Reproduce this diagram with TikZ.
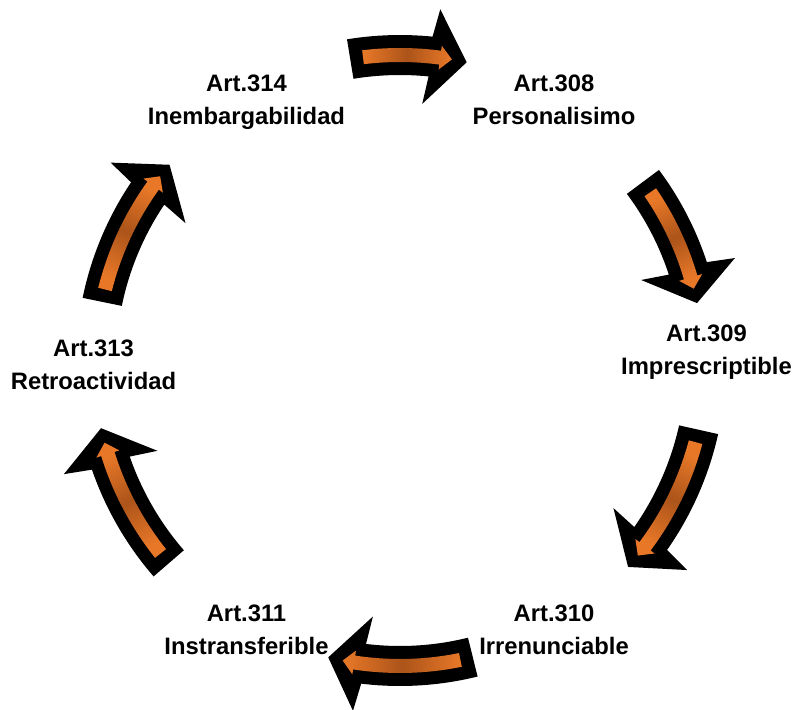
\documentclass[tikz,border=0pt]{standalone}
\usepackage{fontspec}
\setmainfont{Liberation Sans}
\definecolor{orEnd}{RGB}{232,120,40}
\definecolor{orMid}{RGB}{172,84,26}
\tikzset{
  lbl/.style={font=\bfseries\fontsize{23.8}{33}\selectfont, align=center, inner sep=0pt, anchor=north, text=black},
}
\newcommand{\cycarrow}[3]{%
  \pgfmathsetmacro{\aT}{#1}%
  \pgfmathsetmacro{\aP}{#2}%
  \pgfmathsetmacro{\rr}{#3}%
  \pgfmathsetmacro{\hb}{\aP+6.8}%
  \pgfmathsetmacro{\ho}{\hb-0.8}%
  \pgfmathsetmacro{\hi}{\hb+0.8}%
  \pgfmathsetmacro{\ro}{\rr+20}%
  \pgfmathsetmacro{\ri}{\rr-20}%
  \pgfmathsetmacro{\rHo}{\rr+48}%
  \pgfmathsetmacro{\rHi}{\rr-48}%
  \fill[black] (\aT:\ro) arc[start angle=\aT, end angle=\hb, radius=\ro]
     -- (\ho:\rHo) -- (\aP:\rr) -- (\hi:\rHi) -- (\hb:\ri)
     arc[start angle=\hb, end angle=\aT, radius=\ri] -- cycle;
  \pgfmathsetmacro{\oT}{\aT-2.4}%
  \pgfmathsetmacro{\oP}{\aP+2.8}%
  \pgfmathsetmacro{\ob}{\oP+2.2}%
  \pgfmathsetmacro{\oro}{\rr+7}%
  \pgfmathsetmacro{\ori}{\rr-7}%
  \pgfmathsetmacro{\orHo}{\rr+12}%
  \pgfmathsetmacro{\orHi}{\rr-12}%
  \pgfmathsetmacro{\aMid}{(\aT+\aP)/2}%
  \shade[top color=orEnd, bottom color=orEnd, middle color=orMid, shading angle=\aMid]
     (\oT:\oro) arc[start angle=\oT, end angle=\ob, radius=\oro]
     -- (\ob:\orHo) -- (\oP:\rr) -- (\ob:\orHi) -- (\ob:\ori)
     arc[start angle=\ob, end angle=\oT, radius=\ori] -- cycle;
}
\begin{document}
\begin{tikzpicture}[x=1pt,y=1pt]
\useasboundingbox (0,0) rectangle (796,710);
% labels
\node[lbl] (n314) at (246.5,635) {Art.314\\Inembargabilidad};
\node[lbl] (n308) at (554,635) {Art.308\\Personalisimo};
\node[lbl] (n309) at (706.5,385) {Art.309\\Imprescriptible};
\node[lbl] (n310) at (554,105) {Art.310\\Irrenunciable};
\node[lbl] (n311) at (246.5,105) {Art.311\\Instransferible};
\node[lbl] (n313) at (93.5,370) {Art.313\\Retroactividad};
% arrows
\begin{scope}[shift={(400,347)}]
  \cycarrow{99.3}{77.5}{308}
  \cycarrow{36.7}{11.4}{303}
  \cycarrow{-12.6}{-41.8}{306}
  \cycarrow{-76.1}{-103.7}{303}
  \cycarrow{-139.1}{-167.7}{306}
  \cycarrow{168.4}{139.3}{304}
\end{scope}
\end{tikzpicture}
\end{document}
